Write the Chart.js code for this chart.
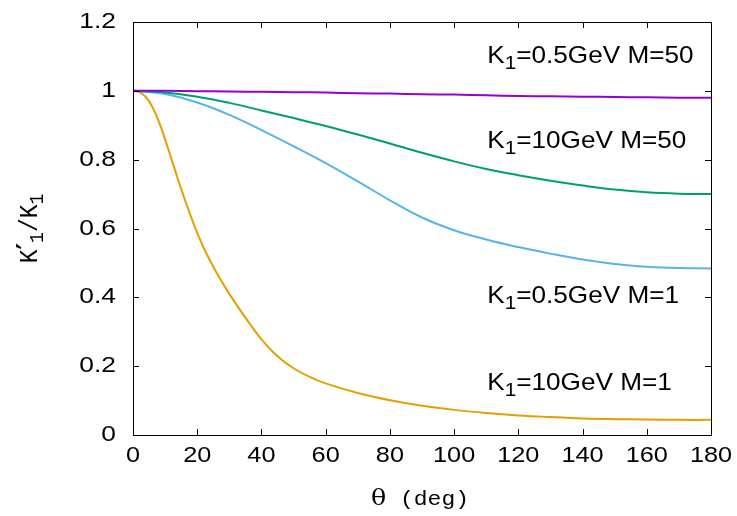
<!DOCTYPE html>
<html>
<head>
<meta charset="utf-8">
<script src="https://cdn.jsdelivr.net/npm/chart.js@4/dist/chart.umd.min.js"></script>
<style>
  html, body { margin: 0; padding: 0; background: #fff; }
  #c { display: block; }
</style>
</head>
<body>
<canvas id="c" width="737" height="516"></canvas>
<script>
// Scattering angle grid (degrees)
const thetaCoarse = [0, 10, 20, 30, 40, 50, 60, 70, 80, 90, 100, 110, 120, 130, 140, 150, 160, 170, 180];
const thetaFine = [0, 2, 4, 6, 8, 10, 12, 14, 16, 18, 20, 22, 25, 28, 30, 33, 36, 40, 45, 50, 55, 60,
                   70, 80, 90, 100, 110, 120, 130, 140, 150, 160, 170, 180];

// Energy ratio K'1/K1 for each beam energy / target mass pair
const ratioK05M50 = [1.0, 1.0, 0.999, 0.998, 0.997, 0.996, 0.995, 0.993, 0.992, 0.990,
                     0.989, 0.987, 0.985, 0.984, 0.983, 0.982, 0.981, 0.980, 0.980];
const ratioK10M50 = [1.0, 0.995, 0.983, 0.965, 0.943, 0.921, 0.898, 0.873, 0.847, 0.820,
                     0.795, 0.773, 0.755, 0.739, 0.725, 0.713, 0.705, 0.701, 0.700];
const ratioK05M1  = [1.0, 0.991, 0.966, 0.930, 0.886, 0.839, 0.790, 0.737, 0.682, 0.632,
                     0.595, 0.568, 0.546, 0.527, 0.510, 0.497, 0.489, 0.485, 0.484];
const ratioK10M1  = [1.0, 0.996, 0.982, 0.954, 0.912, 0.859, 0.801, 0.743, 0.688, 0.636,
                     0.587, 0.544, 0.489, 0.440, 0.410, 0.368, 0.328, 0.278, 0.229, 0.194,
                     0.169, 0.150, 0.122, 0.101, 0.085, 0.073, 0.064, 0.057, 0.052, 0.048,
                     0.046, 0.045, 0.044, 0.044];

// Axis ticks
const xTicks = [0, 20, 40, 60, 80, 100, 120, 140, 160, 180];
const yTicks = [0, 0.2, 0.4, 0.6, 0.8, 1.0, 1.2];

// Curve captions: main text, subscript, remainder
const captionText = [
  ['K', '1', '=0.5GeV M=50'],
  ['K', '1', '=10GeV M=50'],
  ['K', '1', '=0.5GeV M=1'],
  ['K', '1', '=10GeV M=1']
];
const captionTheta = [110.3, 110.3, 110.3, 110.3];
const captionRatio = [1.105, 0.858, 0.407, 0.154];

const pts = (xs, ys) => xs.map((x, i) => ({ x: x, y: ys[i] }));

const SANS = '"Liberation Sans", Arial, Helvetica, sans-serif';
const MONO = '"Liberation Mono", "Courier New", monospace';
const SERIF = '"DejaVu Serif", "Liberation Serif", serif';

// text drawn with a slight horizontal widening (wide-set lettering)
function wideText(ctx, str, x, y, font, sx, align) {
  ctx.font = font;
  const w = ctx.measureText(str).width * sx;
  let x0 = x;
  if (align === 'right') x0 = x - w;
  else if (align === 'center') x0 = x - w / 2;
  ctx.save();
  ctx.translate(x0, y);
  ctx.scale(sx, 1);
  ctx.textAlign = 'left';
  ctx.fillText(str, 0, 0);
  ctx.restore();
  return w;
}
function wideWidth(ctx, str, font, sx) {
  ctx.font = font;
  return ctx.measureText(str).width * sx;
}

const decorations = {
  id: 'decorations',
  afterDraw(chart) {
    const { ctx, chartArea: a, scales: { x, y } } = chart;
    ctx.save();
    // frame
    ctx.strokeStyle = '#000';
    ctx.lineWidth = 1;
    ctx.strokeRect(Math.round(a.left) + 0.5, Math.round(a.top) + 0.5,
                   Math.round(a.right - a.left), Math.round(a.bottom - a.top));
    // inward tick marks on all four sides
    const tl = 6;
    ctx.beginPath();
    x.ticks.forEach(t => {
      const px = Math.round(x.getPixelForValue(t.value)) + 0.5;
      ctx.moveTo(px, a.bottom); ctx.lineTo(px, a.bottom - tl);
      ctx.moveTo(px, a.top); ctx.lineTo(px, a.top + tl);
    });
    y.ticks.forEach(t => {
      const py = Math.round(y.getPixelForValue(t.value)) + 0.5;
      ctx.moveTo(a.left, py); ctx.lineTo(a.left + tl, py);
      ctx.moveTo(a.right, py); ctx.lineTo(a.right - tl, py);
    });
    ctx.stroke();

    // tick labels
    ctx.fillStyle = '#000';
    ctx.textBaseline = 'middle';
    const tickFont = '22px ' + SANS;
    x.ticks.forEach(t => {
      wideText(ctx, String(t.value), x.getPixelForValue(t.value), a.bottom + 21, tickFont, 1.15, 'center');
    });
    y.ticks.forEach(t => {
      wideText(ctx, String(+t.value.toFixed(1)), a.left - 17, y.getPixelForValue(t.value), tickFont, 1.2, 'right');
    });

    // curve captions with subscripts
    ctx.textBaseline = 'alphabetic';
    const capFont = '24px ' + SANS, subFont = '19px ' + SANS, capSX = 1.09;
    captionText.forEach((parts, i) => {
      let px = x.getPixelForValue(captionTheta[i]);
      const py = y.getPixelForValue(captionRatio[i]) + 8;
      px += wideText(ctx, parts[0], px, py, capFont, capSX, 'left');
      px += wideText(ctx, parts[1], px, py + 6, subFont, capSX, 'left');
      wideText(ctx, parts[2], px, py, capFont, capSX, 'left');
    });

    // x-axis title
    const thFont = '22px ' + SERIF, degFont = '20px ' + MONO, tsx = 1.15;
    const thW = wideWidth(ctx, '\u03b8', thFont, tsx);
    const dW = wideWidth(ctx, ' (deg)', degFont, tsx);
    const tx = 420 - (thW + dW) / 2;
    wideText(ctx, '\u03b8', tx, 505, thFont, tsx, 'left');
    wideText(ctx, ' (deg)', tx + thW, 505, degFont, tsx, 'left');

    // y-axis title (rotated, reads bottom to top)
    ctx.translate(37, (a.top + a.bottom) / 2);
    ctx.rotate(-Math.PI / 2);
    ctx.scale(1, 1.12);
    const seg = [
      ['K', '23px ' + MONO, 0],
      ['\u2032', 'bold 25px "DejaVu Sans", sans-serif', 0],
      ['1', '18px ' + MONO, 5],
      ['/K', '23px ' + MONO, 0],
      ['1', '18px ' + MONO, 5]
    ];
    let total = 0;
    seg.forEach(s => { ctx.font = s[1]; total += ctx.measureText(s[0]).width; });
    let sx = -total / 2;
    seg.forEach(s => {
      ctx.font = s[1];
      ctx.fillText(s[0], sx, s[2]);
      sx += ctx.measureText(s[0]).width;
    });
    ctx.restore();
  }
};

const lineStyle = (color) => ({
  borderColor: color,
  backgroundColor: color,
  borderWidth: 2,
  pointRadius: 0,
  fill: false,
  tension: 0.4
});

new Chart(document.getElementById('c'), {
  type: 'line',
  data: {
    datasets: [
      { label: 'K1=0.5GeV M=50', data: pts(thetaCoarse, ratioK05M50), ...lineStyle('#9400d3') },
      { label: 'K1=10GeV M=50', data: pts(thetaCoarse, ratioK10M50), ...lineStyle('#009e73') },
      { label: 'K1=0.5GeV M=1', data: pts(thetaCoarse, ratioK05M1), ...lineStyle('#56b4e9') },
      { label: 'K1=10GeV M=1', data: pts(thetaFine, ratioK10M1), ...lineStyle('#e69f00') }
    ]
  },
  options: {
    responsive: false,
    animation: false,
    devicePixelRatio: 1,
    layout: { padding: { top: 22, right: 26, left: 0, bottom: 0 } },
    plugins: { legend: { display: false }, tooltip: { enabled: false } },
    scales: {
      x: {
        type: 'linear', min: 0, max: 180,
        afterBuildTicks: s => { s.ticks = xTicks.map(v => ({ value: v })); },
        afterFit: s => { s.height = 81; },
        grid: { display: false, drawTicks: false },
        border: { display: false },
        ticks: { display: false }
      },
      y: {
        type: 'linear', min: 0, max: 1.2,
        afterBuildTicks: s => { s.ticks = yTicks.map(v => ({ value: v })); },
        afterFit: s => { s.width = 133; },
        grid: { display: false, drawTicks: false },
        border: { display: false },
        ticks: { display: false }
      }
    }
  },
  plugins: [decorations]
});
</script>
</body>
</html>
